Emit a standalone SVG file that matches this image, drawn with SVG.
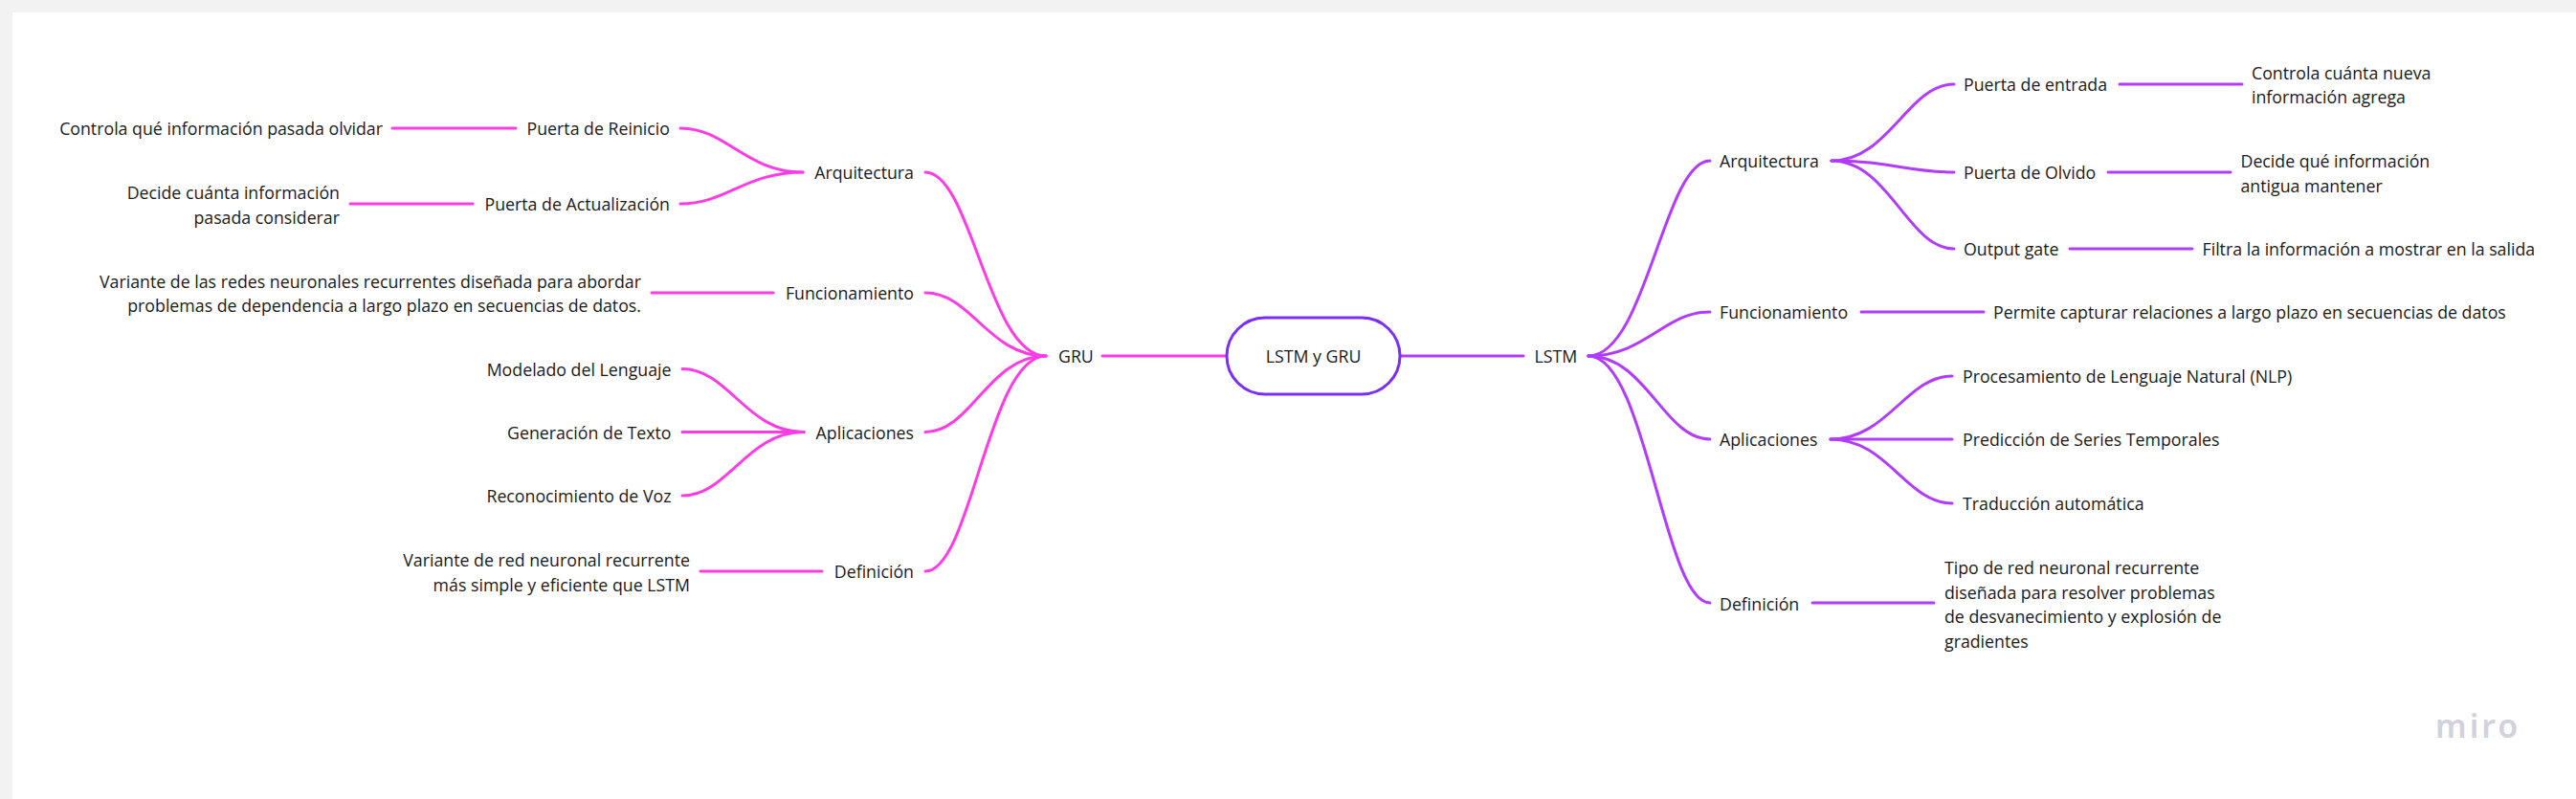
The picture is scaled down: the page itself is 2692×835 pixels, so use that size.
<svg xmlns="http://www.w3.org/2000/svg" width="2692" height="835" viewBox="0 0 2692 835">
<style>
text{font-family:"Open Sans","Noto Sans","Liberation Sans",sans-serif;font-size:17.75px;fill:#1a1a1a;dominant-baseline:central}
.e{text-anchor:end}
.m{text-anchor:middle}
path,line{fill:none;stroke-width:3;stroke-linecap:round}
.p path,.p line{stroke:#ff3be6}
.v path,.v line{stroke:#b13bff}
.miro{font-family:"Noto Sans",sans-serif;font-size:34px;font-weight:600;fill:#d2d2dd;letter-spacing:3px;dominant-baseline:auto}
</style>
<rect width="2692" height="835" fill="#f2f2f2"/>
<rect x="13" y="13" width="2679" height="822" fill="#ffffff"/>
<g id="connectors">
<g class="p">
<line x1="1152" y1="372" x2="1281" y2="372"/>
<path d="M1093 372C1033 372 1015 180 967 180"/>
<path d="M1093 372C1033 372 1015 306 967 306"/>
<path d="M1093 372C1033 372 1015 451.5 967 451.5"/>
<path d="M1093 372C1033 372 1015 597 967 597"/>
<path d="M839 180C779 180 759 134 711 134"/>
<path d="M839 180C779 180 759 213 711 213"/>
<path d="M840 451.5C780 451.5 761 385.5 713 385.5"/>
<line x1="713" y1="451.5" x2="840" y2="451.5"/>
<path d="M840 451.5C780 451.5 761 518 713 518"/>
<line x1="410" y1="134" x2="539" y2="134"/>
<line x1="366" y1="213" x2="494" y2="213"/>
<line x1="681" y1="306" x2="808" y2="306"/>
<line x1="732" y1="597" x2="859" y2="597"/>
</g>
<g class="v">
<line x1="1464" y1="372" x2="1592" y2="372"/>
<path d="M1660 372C1720 372 1739 168 1787 168"/>
<path d="M1660 372C1720 372 1739 326 1787 326"/>
<path d="M1660 372C1720 372 1739 459 1787 459"/>
<path d="M1660 372C1720 372 1739 630 1787 630"/>
<path d="M1914 168C1974 168 1994 88 2042 88"/>
<path d="M1914 168C1974 168 1994 180 2042 180"/>
<path d="M1914 168C1974 168 1994 260 2042 260"/>
<path d="M1913 459C1973 459 1992 393 2040 393"/>
<line x1="1913" y1="459" x2="2040" y2="459"/>
<path d="M1913 459C1973 459 1992 526 2040 526"/>
<line x1="2215" y1="88" x2="2343" y2="88"/>
<line x1="2203" y1="180" x2="2331" y2="180"/>
<line x1="2163" y1="260" x2="2291" y2="260"/>
<line x1="1945" y1="326" x2="2073" y2="326"/>
<line x1="1894" y1="630" x2="2021" y2="630"/>
</g>
</g>
<g id="root"><rect x="1282" y="332" width="181" height="80" rx="40" fill="#fff" stroke="#7a2dff" stroke-width="3"/><text class="m" x="1372.5" y="372">LSTM y GRU</text></g>
<g id="gru"><text x="1106" y="372">GRU</text></g>
<g id="lstm"><text x="1603.5" y="372">LSTM</text></g>
<g id="gru-arq"><text class="e" x="955" y="180">Arquitectura</text></g>
<g id="gru-fun"><text class="e" x="955" y="306">Funcionamiento</text></g>
<g id="gru-apl"><text class="e" x="955" y="451.5">Aplicaciones</text></g>
<g id="gru-def"><text class="e" x="955" y="597">Definición</text></g>
<g id="gru-rei"><text class="e" x="700" y="134">Puerta de Reinicio</text></g>
<g id="gru-act"><text class="e" x="700" y="213">Puerta de Actualización</text></g>
<g id="gru-rei-t"><text class="e" x="400" y="134">Controla qué información pasada olvidar</text></g>
<g id="gru-act-t"><text class="e" x="355" y="201">Decide cuánta información</text><text class="e" x="355" y="227">pasada considerar</text></g>
<g id="gru-fun-t"><text class="e" x="670" y="293.5">Variante de las redes neuronales recurrentes diseñada para abordar</text><text class="e" x="670" y="319">problemas de dependencia a largo plazo en secuencias de datos.</text></g>
<g id="gru-mod"><text class="e" x="701.5" y="385.5">Modelado del Lenguaje</text></g>
<g id="gru-gen"><text class="e" x="701.5" y="451.5">Generación de Texto</text></g>
<g id="gru-rec"><text class="e" x="701.5" y="518">Reconocimiento de Voz</text></g>
<g id="gru-def-t"><text class="e" x="721" y="585">Variante de red neuronal recurrente</text><text class="e" x="721" y="610.5">más simple y eficiente que LSTM</text></g>
<g id="lstm-arq"><text x="1797" y="168">Arquitectura</text></g>
<g id="lstm-fun"><text x="1797" y="326">Funcionamiento</text></g>
<g id="lstm-apl"><text x="1797" y="459">Aplicaciones</text></g>
<g id="lstm-def"><text x="1797" y="630.5">Definición</text></g>
<g id="lstm-ent"><text x="2052" y="88">Puerta de entrada</text></g>
<g id="lstm-olv"><text x="2052" y="180">Puerta de Olvido</text></g>
<g id="lstm-out"><text x="2052" y="260">Output gate</text></g>
<g id="lstm-ent-t"><text x="2353" y="75.5">Controla cuánta nueva</text><text x="2353" y="101">información agrega</text></g>
<g id="lstm-olv-t"><text x="2341.5" y="168">Decide qué información</text><text x="2341.5" y="193.5">antigua mantener</text></g>
<g id="lstm-out-t"><text x="2301.5" y="260">Filtra la información a mostrar en la salida</text></g>
<g id="lstm-fun-t"><text x="2083" y="326">Permite capturar relaciones a largo plazo en secuencias de datos</text></g>
<g id="lstm-nlp"><text x="2051" y="393">Procesamiento de Lenguaje Natural (NLP)</text></g>
<g id="lstm-pre"><text x="2051" y="459">Predicción de Series Temporales</text></g>
<g id="lstm-tra"><text x="2051" y="526">Traducción automática</text></g>
<g id="lstm-def-t"><text x="2032" y="593">Tipo de red neuronal recurrente</text><text x="2032" y="618.5">diseñada para resolver problemas</text><text x="2032" y="644">de desvanecimiento y explosión de</text><text x="2032" y="669.5">gradientes</text></g>
<g id="logo"><text class="miro" x="2545" y="771">miro</text></g>
</svg>
